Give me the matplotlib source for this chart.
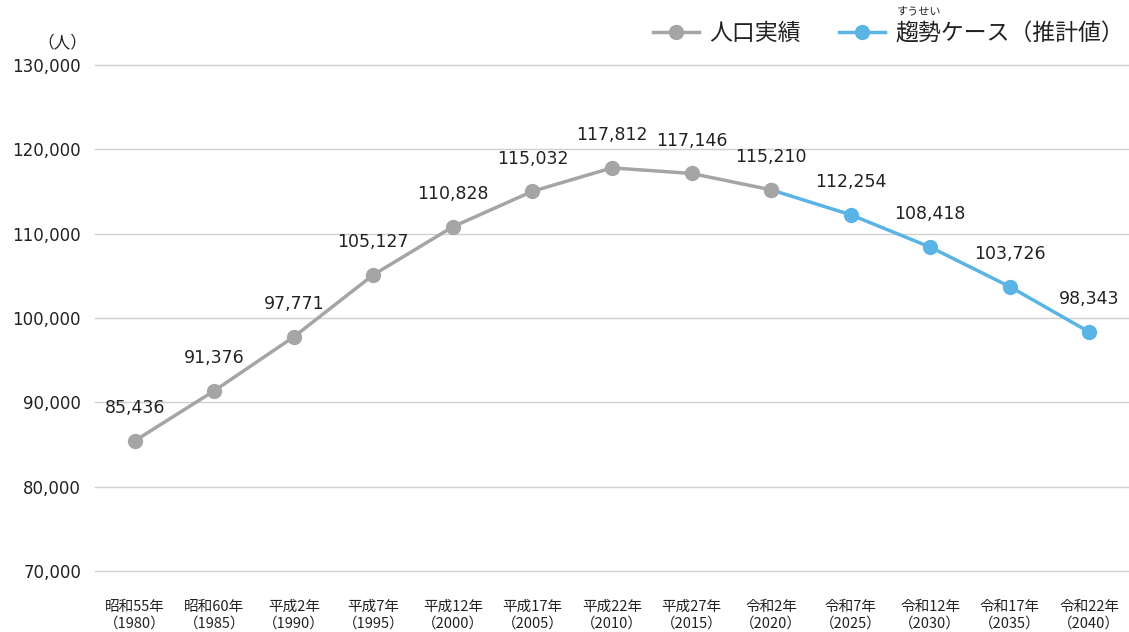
#!/usr/bin/env python3
import matplotlib.pyplot as plt
from matplotlib.lines import Line2D
from matplotlib.ticker import FuncFormatter

plt.rcParams['font.family'] = ['Noto Sans CJK JP', 'DejaVu Sans']

years = ["昭和55年\n（1980）", "昭和60年\n（1985）", "平成2年\n（1990）", "平成7年\n（1995）",
         "平成12年\n（2000）", "平成17年\n（2005）", "平成22年\n（2010）", "平成27年\n（2015）",
         "令和2年\n（2020）", "令和7年\n（2025）", "令和12年\n（2030）", "令和17年\n（2035）",
         "令和22年\n（2040）"]
actual = [85436, 91376, 97771, 105127, 110828, 115032, 117812, 117146, 115210]
forecast = [115210, 112254, 108418, 103726, 98343]
labels = actual + forecast[1:]

GRAY = "#a5a5a5"
BLUE = "#5ab4e6"
TXT = "#222222"

fig = plt.figure(figsize=(11.29, 6.32), dpi=100)
ax = fig.add_axes([0.0841, 0.0965, 0.9159, 0.8005])

x_act = list(range(len(actual)))
x_fc = list(range(len(actual) - 1, len(years)))

ax.plot(x_fc, forecast, "-o", color=BLUE, lw=2.5, ms=10, zorder=3)
ax.plot(x_act, actual, "-o", color=GRAY, lw=2.5, ms=10, zorder=4)

for i, v in enumerate(labels):
    ax.annotate(f"{v:,}", (i, v), xytext=(0, 20), textcoords="offset points",
                ha="center", va="baseline", fontsize=12.5, color=TXT,
                family=['DejaVu Sans'])

ax.set_xlim(-0.5, len(years) - 0.5)
ax.set_ylim(70000, 130000)
ax.set_yticks(range(70000, 130001, 10000))
ax.yaxis.set_major_formatter(FuncFormatter(lambda v, p: f"{int(v):,}"))
ax.set_xticks(range(len(years)))
ax.set_xticklabels(years, fontsize=10.5, linespacing=1.22)
ax.tick_params(axis="y", labelsize=12, length=0, pad=10, labelcolor=TXT)
ax.tick_params(axis="x", length=0, pad=21, labelcolor=TXT)
for lab in ax.get_yticklabels():
    lab.set_family(['DejaVu Sans'])

ax.grid(axis="y", color="#d0d0d0", lw=1)
for gl in ax.get_ygridlines():
    gl.set_clip_on(False)
ax.set_axisbelow(True)
for s in ax.spines.values():
    s.set_visible(False)

fig.text(0.055, 0.933, "（人）", fontsize=12, ha="center", va="center", color=TXT)

handles = [Line2D([], [], color=GRAY, lw=2.5, marker="o", ms=10),
           Line2D([], [], color=BLUE, lw=2.5, marker="o", ms=10)]
fig.legend(handles, ["人口実績", "趨勢ケース（推計値）"], loc="center right",
           bbox_to_anchor=(1.01, 0.947), ncol=2, frameon=False, fontsize=16.5,
           handlelength=2.0, columnspacing=1.7, handletextpad=0.45,
           labelcolor=TXT, borderpad=0.2)
fig.text(0.8145, 0.982, "すうせい", fontsize=8, ha="center", va="center", color=TXT)

plt.savefig("out.png", dpi=100)
